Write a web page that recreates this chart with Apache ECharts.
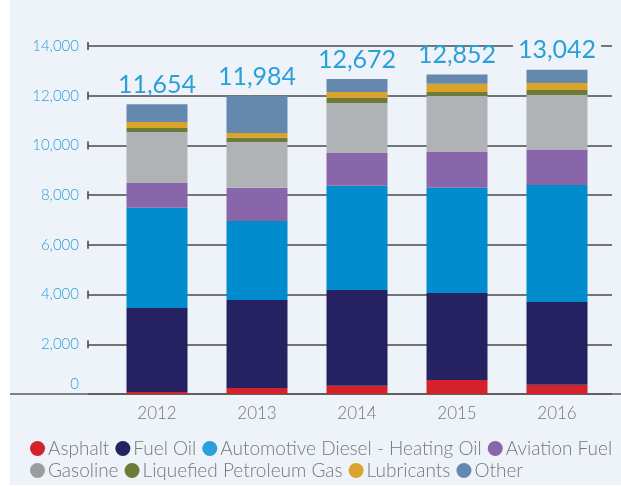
<!DOCTYPE html>
<html>
<head>
<meta charset="utf-8">
<script src="https://cdn.jsdelivr.net/npm/echarts@6/dist/echarts.min.js"></script>
<style>
  html, body { margin: 0; padding: 0; background: #fff; }
  #chart { position: absolute; left: 10px; top: 0; width: 611px; height: 485px; background: #eef3fa; }
</style>
</head>
<body>
<div id="chart"></div>
<script>
// data
const years = ['2012', '2013', '2014', '2015', '2016'];
const totals = [11654, 11984, 12672, 12852, 13042];
const yTicks = [2000, 4000, 6000, 8000, 10000, 12000, 14000];

const asphalt = [80, 241, 335, 563, 375];
const fuelOil = [3380, 3541, 3849, 3500, 3326];
const diesel = [4036, 3178, 4197, 4237, 4707];
const aviation = [993, 1340, 1314, 1436, 1408];
const gasoline = [2052, 1838, 2012, 2253, 2213];
const lpg = [161, 173, 201, 160, 201];
const lubricants = [241, 189, 241, 335, 281];
const other = [711, 1484, 523, 368, 531];

const seriesDefs = [
  { name: 'Asphalt', data: asphalt, color: '#d3222a', icon: '#d3222a' },
  { name: 'Fuel Oil', data: fuelOil, color: '#262262', icon: '#262262' },
  { name: 'Automotive Diesel - Heating Oil', data: diesel, color: '#018cce', icon: '#2a9fd8' },
  { name: 'Aviation Fuel', data: aviation, color: '#8966aa', icon: '#8966aa' },
  { name: 'Gasoline', data: gasoline, color: '#b0b3b6', icon: '#9a9c9e' },
  { name: 'Liquefied Petroleum Gas', data: lpg, color: '#6e7a3a', icon: '#6e7a3a' },
  { name: 'Lubricants', data: lubricants, color: '#daa42a', icon: '#daa42a' },
  { name: 'Other', data: other, color: '#6588ae', icon: '#6588ae' }
];

const BG = '#eef3fa';
const BLUE = '#2a9fd8';
const FONT = 'Lato';

const chart = echarts.init(document.getElementById('chart'));

const legendFor = (defs, top) => ({
  top: top,
  left: 15,
  icon: 'circle',
  itemWidth: 15,
  itemHeight: 15,
  itemGap: 6,
  selectedMode: false,
  textStyle: { color: '#777', fontSize: 19, fontFamily: FONT, fontWeight: 300, padding: [0, 0, 0, -2] },
  data: defs.map(d => ({ name: d.name, itemStyle: { color: d.icon } }))
});

// the tallest total sits on the 14,000 line, which breaks around it
const lastIdx = totals.indexOf(Math.max(...totals));

const barSeries = seriesDefs.map((d, i) => {
  const isTop = i === seriesDefs.length - 1;
  return {
    name: d.name,
    type: 'bar',
    stack: 'total',
    xAxisIndex: 2,
    yAxisIndex: 2,
    barWidth: 61,
    data: isTop
      ? d.data.map((v, k) => k === lastIdx ? { value: v, label: { backgroundColor: BG, padding: [0, 5, 0, 5] } } : v)
      : d.data,
    itemStyle: { color: d.color },
    label: isTop ? {
      show: true,
      position: 'top',
      distance: 7,
      color: BLUE,
      fontSize: 25,
      fontFamily: '"Liberation Sans Narrow", Lato',
      formatter: p => totals[p.dataIndex].toLocaleString('en-US')
    } : { show: false }
  };
});

const option = {
  animation: false,
  backgroundColor: BG,
  legend: [
    legendFor(seriesDefs.slice(0, 4), 434),
    legendFor(seriesDefs.slice(4), 456)
  ],
  grid: [
    { left: 78, right: 9, top: 46, bottom: 91 },
    { left: 0, right: 0, top: 46, bottom: 91 },
    { left: 97, right: 14, top: 46, bottom: 91 }
  ],
  xAxis: [
    { gridIndex: 0, type: 'value', min: 0, max: 1, show: false },
    {
      gridIndex: 1, type: 'category', data: years,
      axisLine: { show: true, lineStyle: { color: '#5a5a5a', width: 1.5 } },
      axisTick: { show: false }, axisLabel: { show: false }
    },
    {
      gridIndex: 2, type: 'category', data: years,
      axisLine: { show: false }, axisTick: { show: false },
      axisLabel: { color: '#777', fontSize: 17, fontFamily: FONT, fontWeight: 300, margin: 11 }
    }
  ],
  yAxis: [
    {
      gridIndex: 0, type: 'value', min: 0, max: 14000, interval: 2000,
      axisLine: { show: false }, axisTick: { show: false },
      splitLine: { show: true, lineStyle: { color: '#4a4a4a', width: 1.5 } },
      axisLabel: {
        color: BLUE, fontSize: 15, fontFamily: FONT, fontWeight: 300, margin: 9,
        formatter: v => v === 0 ? '{z|0}' : v.toLocaleString('en-US'),
        rich: { z: { color: BLUE, fontSize: 15, fontFamily: FONT, fontWeight: 300, padding: [0, 0, 20, 0] } }
      }
    },
    { gridIndex: 1, type: 'value', min: 0, max: 14000, show: false },
    { gridIndex: 2, type: 'value', min: 0, max: 14000, show: false }
  ],
  series: [
    {
      type: 'scatter',
      xAxisIndex: 0,
      yAxisIndex: 0,
      symbol: 'rect',
      symbolSize: [2, 8],
      itemStyle: { color: '#4a4a4a' },
      silent: true,
      data: yTicks.map(t => [0, t])
    },
    ...barSeries
  ]
};

chart.setOption(option);
</script>
</body>
</html>
